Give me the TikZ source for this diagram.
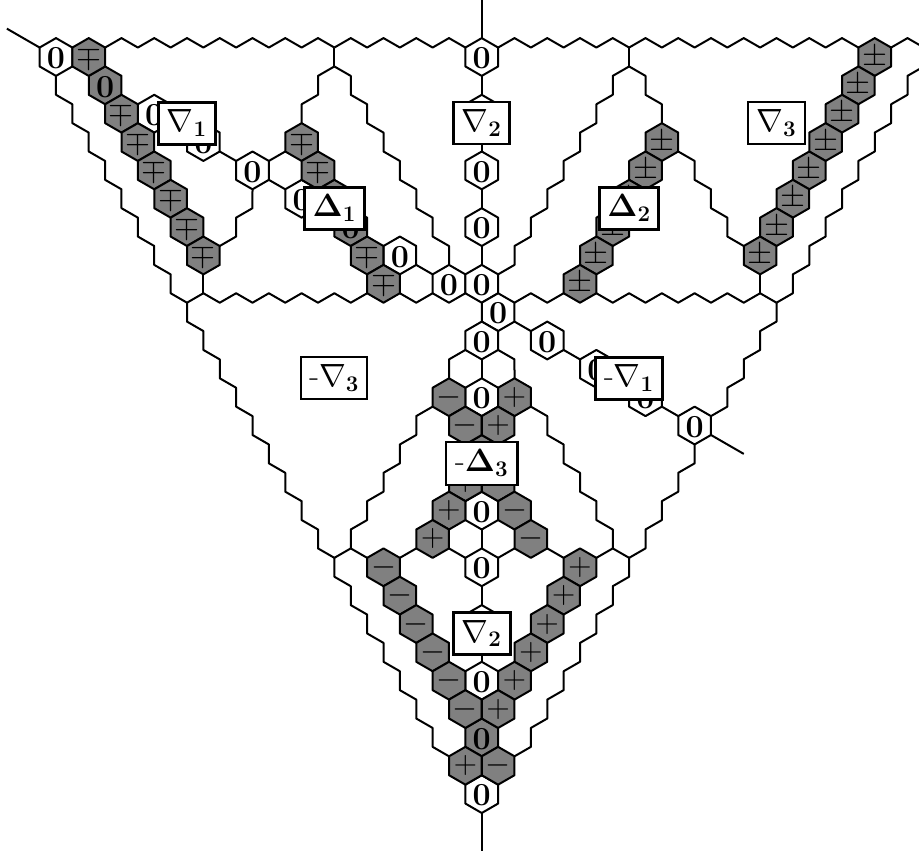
\documentclass[tikz,border=0pt]{standalone}
\usetikzlibrary{shapes.geometric}
\newcommand\lbl[1]{\scalebox{1.55}{\huge #1}}
\newcommand\zig[5]{\foreach \i in {1,...,#1}{ -- ++(#2,#3) -- ++(#4,#5)}}
\newcommand\upzig[1]{\zig{#1}{1}{-1/3}{1}{1/3}}
\newcommand\dnzig[1]{\zig{#1}{1}{1/3}{1}{-1/3}}
\newcommand\sezig[1]{\zig{#1}{0}{2/3}{1}{1/3}}
\newcommand\swzig[1]{\zig{#1}{0}{2/3}{-1}{1/3}}
\newcommand\hexes[4]{\foreach \a/\b in {#4}{\node[#1,label={[#2]center:\lbl{$#3$}}] (h\a-\b) at (\a,\b) {};}}
\tikzset{
  hexbase/.style={regular polygon,regular polygon sides=6,shape border rotate=30,minimum size=37.8pt,inner sep=0pt,outer sep=0pt,draw=black,line width=2pt,line join=round},
  hexw/.style={hexbase,fill=white},
  hexg/.style={hexbase,fill=gray808},
  hexlabel/.style={inner sep=0pt,outer sep=0pt},
  zerolabel/.style={hexlabel,yshift=-1.3pt},
  wire/.style={draw=black,line width=2pt,line join=round},
  lab/.style={draw=black,fill=white,line width=2.7pt,inner sep=0pt,outer sep=0pt,minimum height=42pt,line join=miter}
}
\definecolor{gray808}{HTML}{808080}
\begin{document}
\begin{tikzpicture}[x=16.375pt,y=-28.35pt]
\useasboundingbox (-3.4198,-2.0106) rectangle (52.7023,28.1834);
\clip (-3.4198,-2.0106) rectangle (52.7023,28.1834);
% hexagons
\hexes{hexw}{zerolabel}{\mathbf{0}}{0/0,26/0,6/2,26/2,9/3,12/4,26/4,15/5,26/6,21/7,24/8,26/8,27/9,26/10,30/10,33/11,26/12,36/12,39/13,26/16,26/18,26/20,26/22,26/26}
\hexes{hexg}{zerolabel}{\mathbf{0}}{3/1,18/6,26/14,26/24}
\hexes{hexg}{hexlabel}{\mp}{2/0,4/2,5/3,6/4,7/5,8/6,9/7,15/3,16/4,17/5,19/7,20/8}
\hexes{hexg}{hexlabel}{\pm}{50/0,49/1,48/2,47/3,46/4,45/5,44/6,43/7,37/3,36/4,35/5,34/6,33/7,32/8}
\hexes{hexg}{hexlabel}{-}{24/12,25/13,27/15,28/16,29/17,20/18,21/19,22/20,23/21,24/22,25/23,27/25}
\hexes{hexg}{hexlabel}{+}{28/12,27/13,25/15,24/16,23/17,32/18,31/19,30/20,29/21,28/22,27/23,25/25}
% junctions and free ends
\coordinate (fTL) at (-3,-1);
\coordinate (fTop) at (26,-2);
\coordinate (fBot) at (26,28);
\coordinate (fR) at (42,14);
\coordinate (fTR) at (53,1/3);
\coordinate (fTRb) at (53,-1/3);
\coordinate (jL) at (17,-1/3);
\coordinate (jLb) at (17,1/3);
\coordinate (jR) at (35,-1/3);
\coordinate (jRb) at (35,1/3);
\coordinate (jA) at (8,26/3);
\coordinate (jB) at (9,25/3);
\coordinate (jC) at (17,53/3);
\coordinate (jD) at (18,52/3);
\coordinate (jE) at (43,25/3);
\coordinate (jF) at (44,26/3);
\coordinate (jG) at (35,53/3);
\coordinate (jH) at (34,52/3);
% free ends
\draw[wire] (fTL) -- (h0-0.150);
\draw[wire] (h26-0.90) -- (fTop);
\draw[wire] (h26-26.270) -- (fBot);
\draw[wire] (h39-13.330) -- (fR);
% top line
\draw[wire] (h2-0.30) \upzig{6} -- ++(1,-1/3) -- (jL);
\draw[wire] (jL) \upzig{3} -- ++(1,-1/3) -- (h26-0.150);
\draw[wire] (h26-0.30) \upzig{3} -- ++(1,-1/3) -- (jR);
\draw[wire] (jR) \upzig{6} -- ++(1,-1/3) -- (h50-0.150);
\draw[wire] (h50-0.30) -- ++(1,-1/3) -- (fTRb);
\draw[wire] (jL) -- (jLb);
\draw[wire] (jR) -- (jRb);
% branches from the top line
\draw[wire] (jLb) \zig{1}{-1}{1/3}{0}{2/3} -- ++(-1,1/3) -- (h15-3.90);
\draw[wire] (jLb) \zig{6}{1}{1/3}{0}{2/3} -- ++(1,1/3) -- (h24-8.90);
\draw[wire] (jRb) \zig{1}{1}{1/3}{0}{2/3} -- ++(1,1/3) -- (h37-3.90);
\draw[wire] (jRb) \zig{7}{-1}{1/3}{0}{2/3} -- (h26-8.30);
% left outer line
\draw[wire] (h0-0.270) \sezig{7} -- ++(0,2/3) -- (jA);
\draw[wire] (jA) -- (jB);
\draw[wire] (h9-7.270) -- (jB);
\draw[wire] (jB) \dnzig{4} -- ++(1,1/3) -- (h20-8.210);
\draw[wire] (jA) \sezig{8} -- ++(0,2/3) -- (jC);
\draw[wire] (jC) -- (jD);
\draw[wire] (jD) -- (h20-18.150);
\draw[wire] (jD) \zig{4}{0}{-2/3}{1}{-1/3} -- ++(0,-2/3) -- (h24-12.210);
\draw[wire] (jC) \sezig{6} -- ++(0,2/3) -- (h25-25.150);
% upper left inner
\draw[wire] (h9-7.30) -- ++(1,-1/3) -- ++(0,-2/3) -- ++(1,-1/3) -- (h12-4.270);
\draw[wire] (h12-4.150) -- (h9-3.330);
\draw[wire] (h12-4.30) -- (h15-3.210);
\draw[wire] (h12-4.330) -- (h15-5.150);
\draw[wire] (h6-2.330) -- (h9-3.150);
\draw[wire] (h20-8.330) -- ++(1,1/3) -- (h24-8.210);
\draw[wire] (h21-7.330) -- (h24-8.150);
% centre right
\draw[wire] (h27-9.30) \upzig{1} -- (h32-8.210);
\draw[wire] (h32-8.330) \dnzig{4} -- ++(1,1/3) -- (jE);
\draw[wire] (h43-7.270) -- (jE);
\draw[wire] (jE) -- (jF);
\draw[wire] (fTR) \zig{8}{-1}{1/3}{0}{2/3} -- (jF);
\draw[wire] (jF) \swzig{3} -- ++(0,2/3) -- (h39-13.30);
\draw[wire] (h37-3.330) \zig{3}{1}{1/3}{0}{2/3} -- (h43-7.150);
% centre column
\draw[wire] (h26-0.270) -- (h26-2.90);
\draw[wire] (h26-2.270) -- (h26-4.90);
\draw[wire] (h26-4.270) -- (h26-6.90);
\draw[wire] (h26-6.270) -- (h26-8.90);
\draw[wire] (h26-10.270) -- (h26-12.90);
\draw[wire] (h26-10.210) -- ++(-1,1/3) -- (h24-12.90);
\draw[wire] (h26-10.330) -- ++(1,1/3) -- (h28-12.90);
\draw[wire] (h27-9.330) -- (h30-10.150);
\draw[wire] (h30-10.330) -- (h33-11.150);
\draw[wire] (h33-11.330) -- (h36-12.150);
\draw[wire] (h36-12.330) -- (h39-13.150);
% lower right
\draw[wire] (h39-13.270) \swzig{3} -- ++(0,2/3) -- (jG);
\draw[wire] (jG) -- (jH);
\draw[wire] (jH) -- (h32-18.30);
\draw[wire] (jH) \zig{4}{0}{-2/3}{-1}{-1/3} -- ++(0,-2/3) -- (h28-12.330);
\draw[wire] (jG) \swzig{6} -- ++(0,2/3) -- (h27-25.30);
% lower inner
\draw[wire] (h20-18.30) -- (h23-17.210);
\draw[wire] (h23-17.330) -- (h26-18.150);
\draw[wire] (h26-18.30) -- (h29-17.210);
\draw[wire] (h29-17.330) -- (h32-18.150);
\draw[wire] (h26-16.270) -- (h26-18.90);
\draw[wire] (h26-18.270) -- (h26-20.90);
\draw[wire] (h26-20.270) -- (h26-22.90);
% labels
\node[lab,line width=3.2pt,minimum width=57pt] (n1) at (8,7/3) {\lbl{$\nabla_{\mathbf{1}}$}};
\node[lab,minimum width=56pt] (n2) at (26,7/3) {\lbl{$\nabla_{\mathbf{2}}$}};
\node[lab,minimum width=57pt] (n3) at (44,7/3) {\lbl{$\nabla_{\mathbf{3}}$}};
\node[lab,minimum width=60pt] (d1) at (17,16/3) {\lbl{$\mathbf{\Delta}_{\mathbf{1}}$}};
\node[lab,minimum width=59pt] (d2) at (35,16/3) {\lbl{$\mathbf{\Delta}_{\mathbf{2}}$}};
\node[lab,line width=2pt,minimum width=66pt] (mn3) at (17,34/3) {\lbl{-$\nabla_{\mathbf{3}}$}};
\node[lab,minimum width=67pt] (mn1) at (35,34/3) {\lbl{-$\nabla_{\mathbf{1}}$}};
\node[lab,minimum width=71.5pt,minimum height=43pt] (md3) at (26,43/3) {\lbl{-$\mathbf{\Delta}_{\mathbf{3}}$}};
\node[lab,minimum width=57pt] (n2b) at (26,61/3) {\lbl{$\nabla_{\mathbf{2}}$}};
\end{tikzpicture}
\end{document}
